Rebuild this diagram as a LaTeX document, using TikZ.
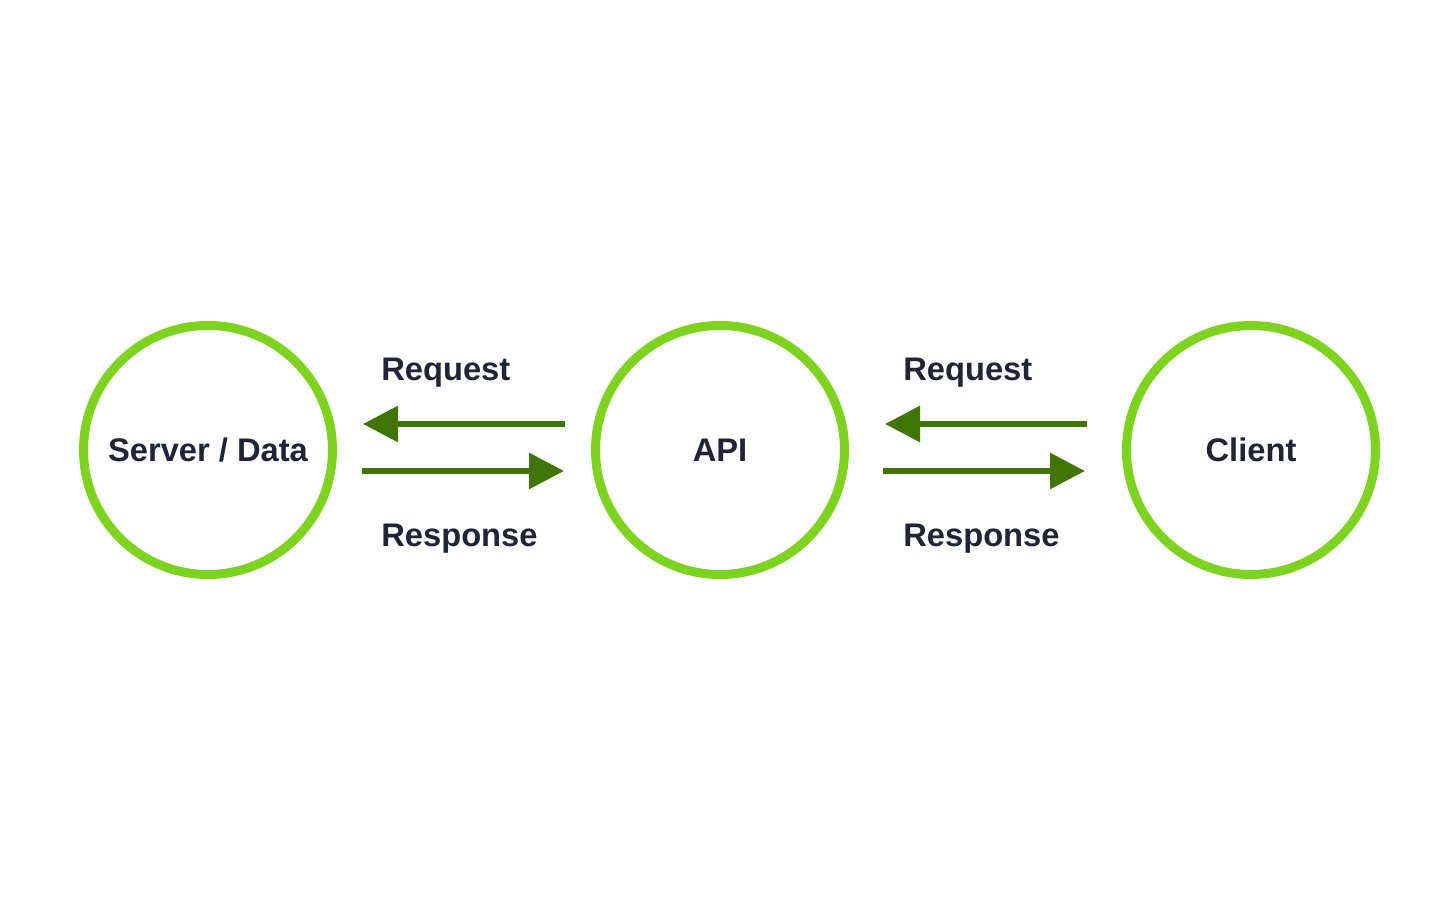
\documentclass[tikz,border=0pt]{standalone}
\usepackage{fontspec}
\setmainfont{Liberation Sans}
\usepackage{xcolor}
\usepackage{tikz}
\usetikzlibrary{arrows.meta,positioning,calc}
\definecolor{ringgreen}{RGB}{126,211,33}
\definecolor{arrowgreen}{RGB}{65,117,5}
\definecolor{textnavy}{RGB}{31,36,54}

\begin{document}
\begin{tikzpicture}[
        station/.style={circle, draw=ringgreen, line width=0.18cm, fill=white, minimum size=4.98cm, inner sep=0pt, text=textnavy, font=\fontsize{18.6}{22}\selectfont\bfseries},
        lbl/.style={anchor=west, text=textnavy, inner sep=0pt, font=\fontsize{18.6}{22}\selectfont\bfseries},
        arrow/.style={-{Triangle[length=0.7cm,width=0.7cm]}, arrowgreen, line width=0.12cm}]

      \useasboundingbox (0,0) rectangle (28.8,18);

      \node[station] (server) at (4.16,9) {Server / Data};
      \node[station] (api) at (14.4,9) {API};
      \node[station] (client) at (25.02,9) {Client};

      \node[lbl] (req1) at (7.62,10.54) {Request};
      \node[lbl] (res1) at (7.62,7.22) {Response};
      \node[lbl] (req2) at (18.06,10.54) {Request};
      \node[lbl] (res2) at (18.06,7.22) {Response};

      \draw[arrow, shorten <=0.52cm, shorten >=0.52cm] ([yshift=0.52cm]api.west) -- ([yshift=0.52cm]server.east);
      \draw[arrow, shorten <=0.5cm, shorten >=0.54cm] ([yshift=-0.42cm]server.east) -- ([yshift=-0.42cm]api.west);
      \draw[arrow, shorten <=0.7cm, shorten >=0.72cm] ([yshift=0.52cm]client.west) -- ([yshift=0.52cm]api.east);
      \draw[arrow, shorten <=0.68cm, shorten >=0.74cm] ([yshift=-0.42cm]api.east) -- ([yshift=-0.42cm]client.west);
    \end{tikzpicture}
\end{document}
